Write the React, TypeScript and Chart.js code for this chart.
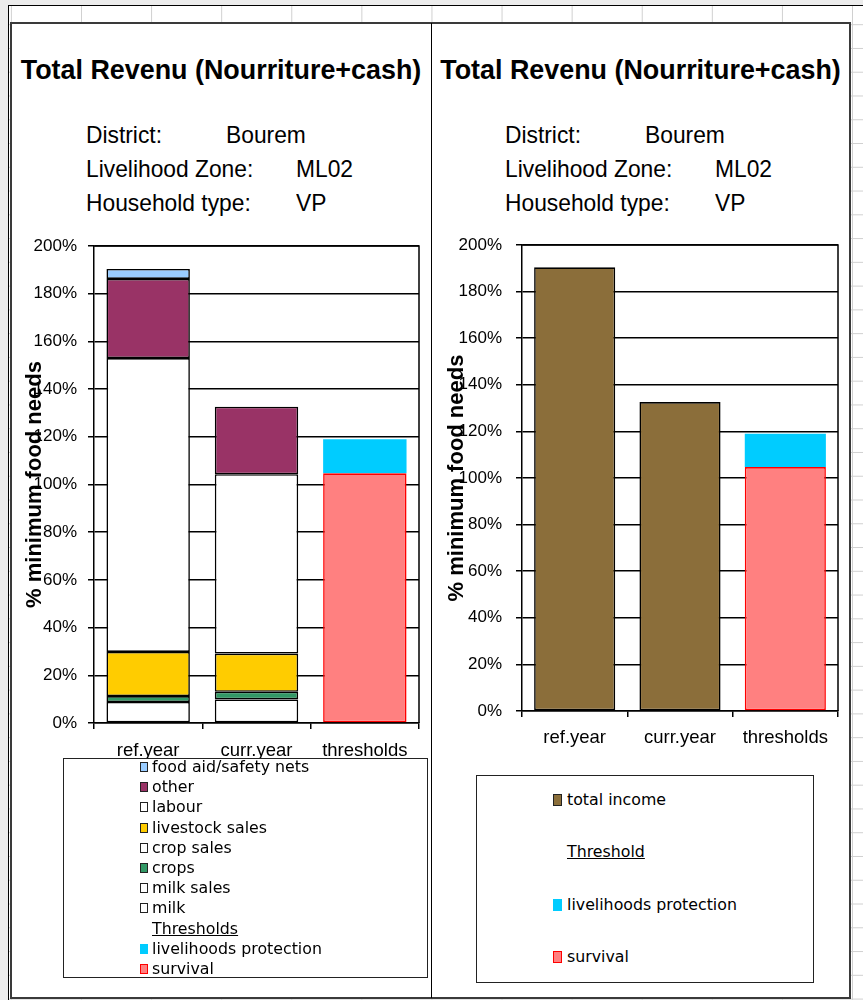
import React, { useEffect, useRef } from 'react';
import { Chart, registerables } from 'chart.js';

Chart.register(...registerables);

const SANS = "'Liberation Sans', Arial, sans-serif";
const LEGEND_FONT = "'DejaVu Sans', Verdana, sans-serif";
Chart.defaults.font.family = SANS;

// ---------- data ----------
const categories = ['ref.year', 'curr.year', 'thresholds'];
const milk = [8.8, 9.9, null];
const milkSales = [0, 0, null];
const crops = [2.5, 3.2, null];
const cropSales = [0, 0, null];
const livestockSales = [18.5, 16.0, null];
const labour = [123.2, 75.2, null];
const other = [33.2, 28.3, null];
const foodAid = [4.2, 0, null];
const survival = [null, null, 104.7];
const livelihoodsProtection = [null, null, 14.3];
const totalIncome = [190.4, 132.6, null];
const yMax = 200;
const yStep = 20;

const chartTitle = 'Total Revenu (Nourriture+cash)';
const axisTitle = '% minimum food needs';
const infoLabels = ['District:', 'Livelihood Zone:', 'Household type:'];
const infoValues = ['Bourem', 'ML02', 'VP'];

type Series = { label: string; data: (number | null)[]; bg: string; border: string | null; threshold?: boolean };

const leftSeries: Series[] = [
  { label: 'milk', data: milk, bg: '#FFFFFF', border: '#000000' },
  { label: 'milk sales', data: milkSales, bg: '#FFFFFF', border: '#000000' },
  { label: 'crops', data: crops, bg: '#339966', border: '#000000' },
  { label: 'crop sales', data: cropSales, bg: '#FFFFFF', border: '#000000' },
  { label: 'livestock sales', data: livestockSales, bg: '#FFCC00', border: '#000000' },
  { label: 'labour', data: labour, bg: '#FFFFFF', border: '#000000' },
  { label: 'other', data: other, bg: '#993366', border: '#000000' },
  { label: 'food aid/safety nets', data: foodAid, bg: '#99CCFF', border: '#000000' },
  { label: 'survival', data: survival, bg: '#FF8080', border: '#FF0000', threshold: true },
  { label: 'livelihoods protection', data: livelihoodsProtection, bg: '#00CCFF', border: null, threshold: true },
];

const rightSeries: Series[] = [
  { label: 'total income', data: totalIncome, bg: '#8B6E3A', border: '#000000' },
  { label: 'survival', data: survival, bg: '#FF8080', border: '#FF0000', threshold: true },
  { label: 'livelihoods protection', data: livelihoodsProtection, bg: '#00CCFF', border: null, threshold: true },
];

// ---------- chart ----------
const framePlugin = {
  id: 'frame',
  afterDraw(chart: any) {
    const { ctx, chartArea } = chart;
    ctx.save();
    ctx.strokeStyle = '#000';
    ctx.lineWidth = 1.5;
    ctx.beginPath();
    ctx.moveTo(chartArea.left, chartArea.top);
    ctx.lineTo(chartArea.right, chartArea.top);
    ctx.lineTo(chartArea.right, chartArea.bottom);
    ctx.stroke();
    ctx.restore();
  },
};

type Geo = {
  left: number; top: number; w: number; h: number;
  padRight: number; padTop: number; yWidth: number; xHeight: number;
  yTickPad: number; xTickPad: number; titlePad: number;
};

function makeConfig(series: Series[], g: Geo): any {
  return {
    type: 'bar',
    data: {
      labels: categories,
      datasets: series.map((s) => ({
        label: s.label,
        data: s.data,
        backgroundColor: s.bg,
        borderColor: s.border ?? s.bg,
        borderWidth: s.border ? 1.6 : 0,
        borderSkipped: false,
        categoryPercentage: 1,
        barPercentage: 0.77,
      })),
    },
    options: {
      responsive: false,
      animation: false,
      events: [],
      layout: { padding: { left: 0, right: g.padRight, top: g.padTop, bottom: 0 } },
      plugins: { legend: { display: false }, tooltip: { enabled: false }, title: { display: false } },
      scales: {
        x: {
          stacked: true,
          grid: { display: true, drawOnChartArea: false, drawTicks: true, tickLength: 6, color: '#000', lineWidth: 1.5, offset: true },
          border: { display: true, color: '#000', width: 1.5 },
          ticks: { color: '#000', font: { size: 18.5 }, padding: g.xTickPad, maxRotation: 0, autoSkip: false },
          afterFit: (s: any) => { s.height = g.xHeight; s.paddingLeft = 0; s.paddingRight = 0; },
        },
        y: {
          stacked: true,
          min: 0,
          max: yMax,
          ticks: { stepSize: yStep, color: '#000', font: { size: 17 }, padding: g.yTickPad, callback: (v: any) => v + '%' },
          grid: { color: '#000', lineWidth: 1.5, tickLength: 6, drawTicks: true },
          border: { display: true, color: '#000', width: 1.5 },
          title: { display: true, text: axisTitle, color: '#000', font: { size: 22, weight: 'bold' }, padding: { top: g.titlePad, bottom: 0 } },
          afterFit: (s: any) => { s.width = g.yWidth; s.paddingTop = 0; s.paddingBottom = 0; },
        },
      },
    },
    plugins: [framePlugin],
  };
}

function BarChart({ series, g }: { series: Series[]; g: Geo }) {
  const ref = useRef<HTMLCanvasElement>(null);
  useEffect(() => {
    const chart = new Chart(ref.current as HTMLCanvasElement, makeConfig(series, g));
    return () => chart.destroy();
  }, []);
  return (
    <canvas
      ref={ref}
      width={g.w}
      height={g.h}
      style={{ position: 'absolute', left: g.left, top: g.top, width: g.w, height: g.h }}
    />
  );
}

// ---------- text helpers ----------
function Title({ left, width }: { left: number; width: number }) {
  return (
    <div
      style={{
        position: 'absolute', left, top: 56, width, textAlign: 'center', whiteSpace: 'nowrap',
        font: `bold 28px ${SANS}`, lineHeight: '28px', color: '#000',
        transform: 'scaleX(0.96)', transformOrigin: 'center',
      }}
    >
      {chartTitle}
    </div>
  );
}

function Info({ labelX, valueXs }: { labelX: number; valueXs: number[] }) {
  const tops = [122.7, 156.7, 190.7];
  const st = (x: number, y: number): React.CSSProperties => ({
    position: 'absolute', left: x, top: y, whiteSpace: 'nowrap',
    font: `24px ${SANS}`, lineHeight: '24px', color: '#000',
    transform: 'scaleX(0.95)', transformOrigin: 'left',
  });
  return (
    <>
      {infoLabels.map((l, i) => (
        <div key={'l' + i} style={st(labelX, tops[i])}>{l}</div>
      ))}
      {infoValues.map((v, i) => (
        <div key={'v' + i} style={st(valueXs[i], tops[i])}>{v}</div>
      ))}
    </>
  );
}

type LegendRow = { kind: 'item'; s: Series } | { kind: 'header'; text: string };

function Legend({ box, rows, rowY, markerX, textX, mw, mh }: {
  box: { left: number; top: number; w: number; h: number };
  rows: LegendRow[]; rowY: number[]; markerX: number; textX: number; mw: number; mh: number;
}) {
  return (
    <>
      <div style={{ position: 'absolute', left: box.left, top: box.top, width: box.w, height: box.h, border: '1.5px solid #222', boxSizing: 'border-box', background: '#fff' }} />
      {rows.map((r, i) => {
        const cy = rowY[i];
        if (r.kind === 'header') {
          return (
            <div key={i} style={{ position: 'absolute', left: textX, top: cy - 10, height: 20, lineHeight: '20px', font: `15.8px ${LEGEND_FONT}`, color: '#000', textDecoration: 'underline', whiteSpace: 'nowrap' }}>
              {r.text}
            </div>
          );
        }
        const s = r.s;
        return (
          <React.Fragment key={i}>
            <div style={{ position: 'absolute', left: markerX, top: cy - mh / 2, width: mw, height: mh, background: s.bg, border: s.border ? `1.5px solid ${s.border === '#000000' ? '#222' : s.border}` : 'none', boxSizing: 'border-box' }} />
            <div style={{ position: 'absolute', left: textX, top: cy - 10, height: 20, lineHeight: '20px', font: `15.8px ${LEGEND_FONT}`, color: '#000', whiteSpace: 'nowrap' }}>
              {s.label}
            </div>
          </React.Fragment>
        );
      })}
    </>
  );
}

export default function App() {
  const leftRows: LegendRow[] = [
    ...leftSeries.filter((s) => !s.threshold).reverse().map((s) => ({ kind: 'item' as const, s })),
    { kind: 'header', text: 'Thresholds' },
    ...leftSeries.filter((s) => s.threshold).reverse().map((s) => ({ kind: 'item' as const, s })),
  ];
  const leftRowY = leftRows.map((_, i) => 767 + i * 20.2);

  const rightRows: LegendRow[] = [
    ...rightSeries.filter((s) => !s.threshold).map((s) => ({ kind: 'item' as const, s })),
    { kind: 'header', text: 'Threshold' },
    ...rightSeries.filter((s) => s.threshold).reverse().map((s) => ({ kind: 'item' as const, s })),
  ];
  const rightRowY = rightRows.map((_, i) => 800 + i * 52.3);

  const leftGeo: Geo = { left: 11, top: 230, w: 420, h: 535, padRight: 12, padTop: 16, yWidth: 83, xHeight: 42, yTickPad: 11, xTickPad: 11, titlePad: 11 };
  const rightGeo: Geo = { left: 431, top: 230, w: 419, h: 525, padRight: 12, padTop: 15, yWidth: 91, xHeight: 44, yTickPad: 14, xTickPad: 10, titlePad: 13 };

  return (
    <div style={{ position: 'absolute', left: 0, top: 0, width: 863, height: 1000, background: '#ececec', overflow: 'hidden' }}>
      {/* spreadsheet area */}
      <div
        style={{
          position: 'absolute', left: 8, top: 5, width: 855, height: 995,
          borderLeft: '1px solid #000', borderTop: '1px solid #000', boxSizing: 'border-box',
          backgroundColor: '#fff',
          backgroundImage: 'linear-gradient(to right, #d0d0d0 1px, transparent 1px), linear-gradient(to bottom, #d0d0d0 1px, transparent 1px)',
          backgroundSize: '70.1px 100%, 100% 23.78px',
          backgroundPosition: '1.9px 0, 0 18.2px',
        }}
      />
      {/* chart object frame */}
      <div style={{ position: 'absolute', left: 10, top: 22, width: 841, height: 977, border: '2px solid #3a3a3a', boxSizing: 'border-box', background: '#fff' }} />
      <div style={{ position: 'absolute', left: 431, top: 23, width: 1, height: 975, background: '#000' }} />

      <Title left={11} width={420} />
      <Title left={431} width={419} />
      <Info labelX={86} valueXs={[226, 296, 296]} />
      <Info labelX={505} valueXs={[645, 715, 715]} />

      <BarChart series={leftSeries} g={leftGeo} />
      <BarChart series={rightSeries} g={rightGeo} />

      <Legend box={{ left: 63, top: 758, w: 365, h: 220 }} rows={leftRows} rowY={leftRowY} markerX={140} textX={152} mw={8} mh={10} />
      <Legend box={{ left: 476, top: 775, w: 338, h: 208 }} rows={rightRows} rowY={rightRowY} markerX={553} textX={567} mw={9} mh={12} />
    </div>
  );
}
